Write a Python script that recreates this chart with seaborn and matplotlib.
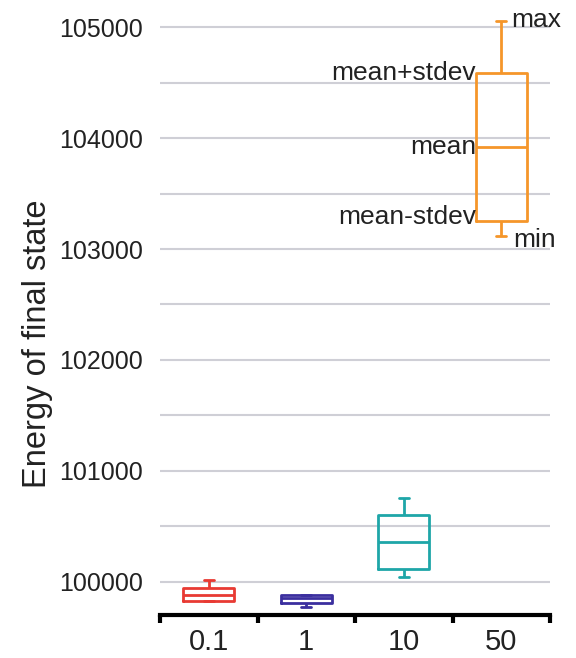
import pandas as pd
import numpy as np
import matplotlib
matplotlib.use("Agg")
import matplotlib.pyplot as plt
import seaborn as sns
from matplotlib.ticker import MultipleLocator, FixedLocator

# summary stats per setting
settings = ["0.1", "1", "10", "50"]
e_min = [99826, 99775, 100045, 103117]
e_low = [99826, 99810, 100117, 103252]   # mean - stdev
e_mean = [99880, 99850, 100360, 103919]
e_high = [99944, 99883, 100604, 104586]  # mean + stdev
e_max = [100016, 99883, 100757, 105054]
colors = ["#e83a33", "#3b2f9f", "#1ea6a8", "#f5962a"]

# five points per setting so quartiles land on mean-stdev / mean / mean+stdev
rows = []
for i, s in enumerate(settings):
    for v in (e_min[i], e_low[i], e_mean[i], e_high[i], e_max[i]):
        rows.append({"setting": s, "energy": v})
df = pd.DataFrame(rows)

sns.set_style("white")
plt.rcParams["font.family"] = ["Liberation Sans", "DejaVu Sans"]

fig = plt.figure(figsize=(5.76, 6.58), dpi=100)
ax = fig.add_axes([0.2778, 0.0653, 0.6771, 0.9271])

sns.boxplot(data=df, x="setting", y="energy", hue="setting", palette=colors,
            order=settings, hue_order=settings, whis=(0, 100), width=0.52,
            fill=False, linewidth=2, legend=False, ax=ax, capwidths=0.1)

ax.set_xlim(-0.5, 3.5)
ax.set_ylim(99700, 105200)
ax.yaxis.set_major_locator(MultipleLocator(1000))
ax.yaxis.set_minor_locator(MultipleLocator(500))
ax.grid(True, axis="y", which="both", color="#cfcfd6", linewidth=1.5)
ax.set_axisbelow(True)
ax.tick_params(axis="y", which="both", length=0, labelsize=18, pad=12, labelcolor="#222222")

ax.xaxis.set_minor_locator(FixedLocator([-0.5, 0.5, 1.5, 2.5, 3.5]))
ax.tick_params(axis="x", which="major", bottom=True, length=0, labelsize=21, pad=9,
               labelcolor="#222222")
ax.tick_params(axis="x", which="minor", bottom=True, length=6, width=3, color="black",
               direction="out")

for side in ["left", "right", "top"]:
    ax.spines[side].set_visible(False)
ax.spines["bottom"].set_linewidth(3)
ax.spines["bottom"].set_color("black")

ax.set_xlabel("")
ax.set_ylabel("Energy of final state", fontsize=23.5, color="#222222")
ax.yaxis.set_label_coords(-0.275, 0.444)

# labels on the last box
k = 3
half = 0.26
txt = dict(fontsize=19, color="#222222", textcoords="offset points")
ax.annotate("max", (k + 0.1, e_max[k]), xytext=(0, 1), ha="left", va="center", **txt)
ax.annotate("mean+stdev", (k - half, e_high[k]), xytext=(0, 0), ha="right", va="center", **txt)
ax.annotate("mean", (k - half, e_mean[k]), xytext=(0, 0), ha="right", va="center", **txt)
ax.annotate("mean-stdev", (k - half, e_low[k]), xytext=(0, 3), ha="right", va="center", **txt)
ax.annotate("min", (k + 0.12, e_min[k]), xytext=(0, -3), ha="left", va="center", **txt)

fig.savefig("out.png", dpi=100)
